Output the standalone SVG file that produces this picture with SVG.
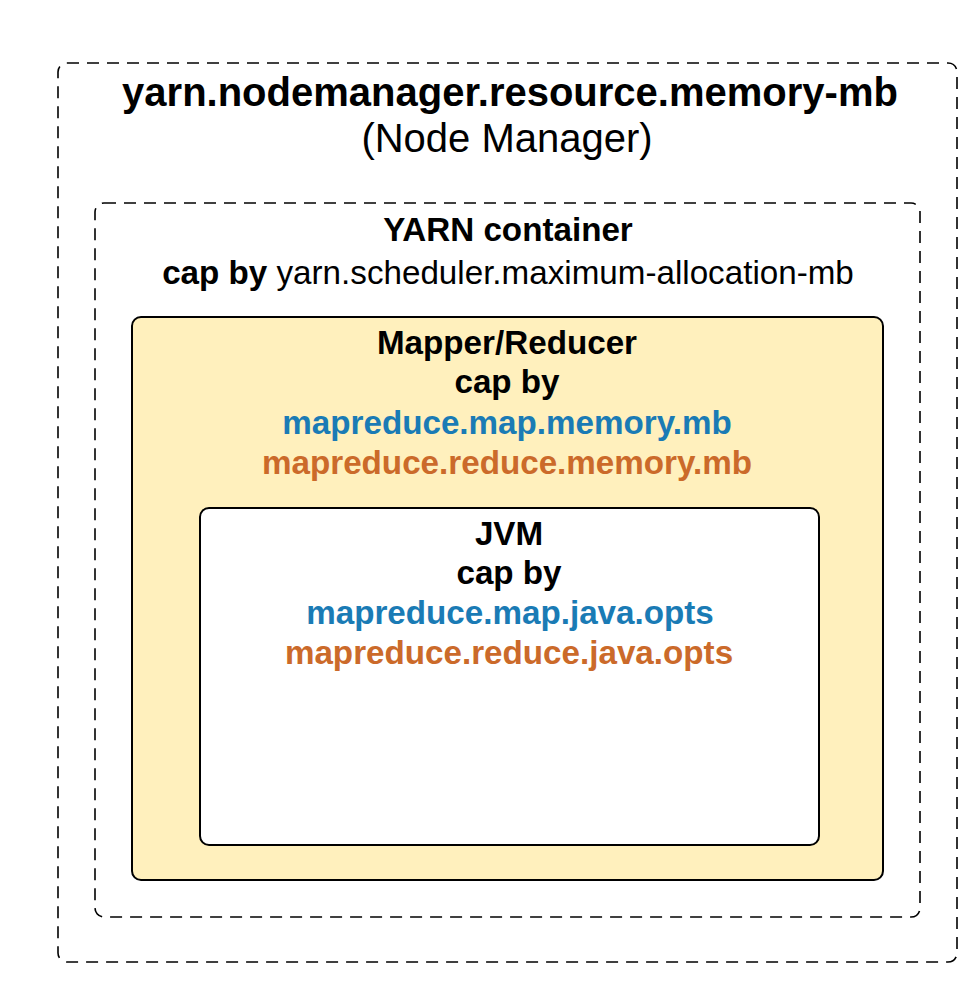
<svg xmlns="http://www.w3.org/2000/svg" width="978" height="983" viewBox="0 0 978 983">
<style>
.dash{fill:none;stroke:#000;stroke-width:1.6;stroke-dasharray:12 8}
.solid{stroke:#000;stroke-width:2}
text{font-family:"Liberation Sans",Arial,sans-serif;text-anchor:middle;fill:#000}
.b{font-weight:bold}
.t1{font-size:40px}
.t2{font-size:33.2px}
.blue{fill:#1a7bb5;font-weight:bold}
.orange{fill:#cb6a2a;font-weight:bold}
</style>
<rect width="978" height="983" fill="#fff"/>
<g id="nodemanager">
<rect class="dash" x="58" y="63" width="899" height="899" rx="9"/>
<text class="t1 b" x="510" y="106">yarn.nodemanager.resource.memory-mb</text>
<text class="t1" x="507" y="152">(Node Manager)</text>
</g>
<g id="yarncontainer">
<rect class="dash" x="95" y="203" width="825" height="714" rx="9"/>
<text class="t2 b" x="508" y="241">YARN container</text>
<text class="t2" x="508" y="284"><tspan class="b">cap by</tspan> yarn.scheduler.maximum-allocation-mb</text>
</g>
<g id="mapperreducer">
<rect class="solid" x="132" y="317" width="751" height="563" rx="9" fill="#fff0bd"/>
<text class="t2 b" x="507" y="354">Mapper/Reducer</text>
<text class="t2 b" x="507" y="393">cap by</text>
<text class="t2 blue" x="507" y="434">mapreduce.map.memory.mb</text>
<text class="t2 orange" x="507" y="474">mapreduce.reduce.memory.mb</text>
</g>
<g id="jvm">
<rect class="solid" x="200" y="508" width="619" height="337" rx="9" fill="#fff"/>
<text class="t2 b" x="509" y="545">JVM</text>
<text class="t2 b" x="509" y="584">cap by</text>
<text class="t2 blue" x="510" y="624">mapreduce.map.java.opts</text>
<text class="t2 orange" x="509" y="664">mapreduce.reduce.java.opts</text>
</g>
<g id="connectors"></g>
</svg>
